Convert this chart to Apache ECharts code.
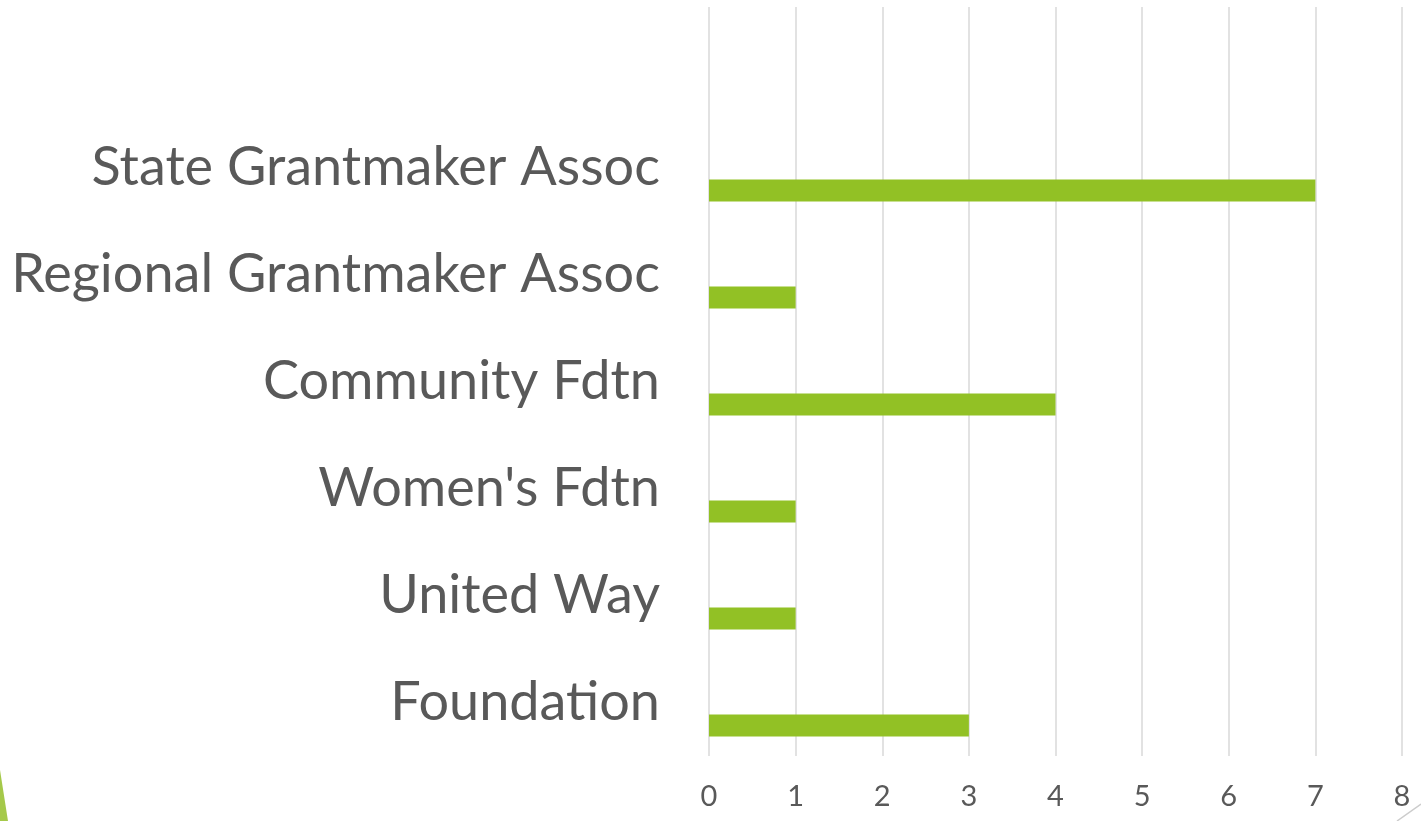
<!DOCTYPE html>
<html>
<head>
<meta charset="utf-8">
<script src="https://cdn.jsdelivr.net/npm/echarts@6/dist/echarts.min.js"></script>
<style>
html,body{margin:0;padding:0;background:#fff;}
#chart{width:1421px;height:821px;}
</style>
</head>
<body>
<div id="chart"></div>
<script>
// Categories bottom-to-top (top slot is an empty category)
const categories = ['Foundation', 'United Way', "Women's Fdtn", 'Community Fdtn', 'Regional Grantmaker Assoc', 'State Grantmaker Assoc', ''];
const values = [3, 1, 1, 4, 1, 7, null];
const emptyValues = [null, null, null, null, null, null, null];
const xTicks = [0, 1, 2, 3, 4, 5, 6, 7, 8];

const chart = echarts.init(document.getElementById('chart'));
chart.setOption({
  animation: false,
  backgroundColor: '#ffffff',
  grid: { left: 709, right: 19, top: 7, bottom: 65, containLabel: false, outerBoundsMode: 'none' },
  xAxis: {
    type: 'value', min: xTicks[0], max: xTicks[xTicks.length - 1], interval: 1,
    axisLine: { show: false }, axisTick: { show: false },
    splitLine: { show: true, lineStyle: { color: '#d9d9d9', width: 1.5 } },
    axisLabel: { color: '#595959', fontSize: 29, fontFamily: 'Lato', margin: 26 }
  },
  yAxis: {
    type: 'category', data: categories,
    axisLine: { show: false }, axisTick: { show: false },
    splitLine: { show: false },
    axisLabel: { color: '#595959', fontSize: 54, fontFamily: 'Lato', margin: 49, interval: 0 }
  },
  series: [
    { type: 'bar', data: emptyValues, barWidth: 22, barGap: '110%' },
    { type: 'bar', data: values, barWidth: 22, barGap: '110%', itemStyle: { color: '#92c125' } }
  ],
  graphic: [
    { type: 'polygon', shape: { points: [[0, 770], [0, 821], [8, 821]] }, style: { fill: '#a5c94a' } },
    { type: 'line', shape: { x1: 1397, y1: 821, x2: 1421, y2: 804 }, style: { stroke: '#cccccc', lineWidth: 1.5 } }
  ]
});
</script>
</body>
</html>
